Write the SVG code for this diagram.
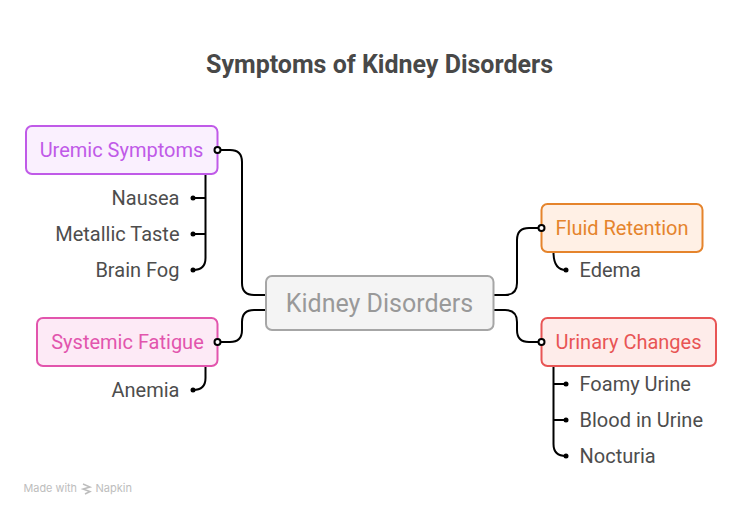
<svg xmlns="http://www.w3.org/2000/svg" width="743" height="516" viewBox="0 0 743 516">
<style>
text{font-family:Roboto,"Liberation Sans",sans-serif}
.leaf{font-size:20px;fill:#4d4d4d}
.lab{font-size:20px}
.end{text-anchor:end}
.box{stroke-width:2}
.c{fill:none;stroke:#000;stroke-width:2}
.dot{fill:#000}
.ring{fill:#fff;stroke:#000;stroke-width:2}
.wm{font-size:11px;fill:#bdbdbd;font-family:Inter,sans-serif}
</style>
<rect width="743" height="516" fill="#fff"/>
<text x="379.500" y="72.500" text-anchor="middle" font-size="25" font-weight="700" fill="#484848">Symptoms of Kidney Disorders</text>
<g id="connectors">
<path class="c" d="M266 295H254Q242 295 242 283V162Q242 150 230 150H218"/>
<path class="c" d="M266 310H254Q242 310 242 322V330Q242 342 230 342H218"/>
<path class="c" d="M493 295H505Q517 295 517 283V240Q517 228 529 228H541"/>
<path class="c" d="M493 310H505Q517 310 517 322V330Q517 342 529 342H541"/>
<path class="c" d="M205.500 174V258Q205.500 270 193 270"/>
<path class="c" d="M205.500 198H193M205.500 234H193"/>
<path class="c" d="M205.500 366V378Q205.500 390 193 390"/>
<path class="c" d="M553.500 252Q553.500 270 566 270"/>
<path class="c" d="M553.500 366V444Q553.500 456 566 456"/>
<path class="c" d="M553.500 384H566M553.500 420H566"/>
</g>
<g id="root"><rect class="box" x="266" y="276" width="227.500" height="54" rx="6" fill="#f4f4f4" stroke="#a6a6a6"/><text x="379.500" y="312" text-anchor="middle" font-size="25" fill="#999">Kidney Disorders</text></g>
<g id="uremic"><rect class="box" x="26" y="126" width="191.500" height="48" rx="6" fill="#faf0fe" stroke="#c05ae8"/><text class="lab" x="121.500" y="157" text-anchor="middle" fill="#c05ae8">Uremic Symptoms</text><circle class="ring" cx="217.500" cy="150" r="3"/></g>
<g id="fatigue"><rect class="box" x="37" y="318" width="180.500" height="48" rx="6" fill="#fdeaf6" stroke="#e255ad"/><text class="lab" x="127.500" y="349" text-anchor="middle" fill="#e255ad">Systemic Fatigue</text><circle class="ring" cx="217.500" cy="342" r="3"/></g>
<g id="fluid"><rect class="box" x="541.500" y="204" width="161" height="48" rx="6" fill="#fff0e5" stroke="#e5842c"/><text class="lab" x="622" y="235" text-anchor="middle" fill="#e5842c">Fluid Retention</text><circle class="ring" cx="541.500" cy="228" r="3"/></g>
<g id="urinary"><rect class="box" x="541.500" y="318" width="174.500" height="48" rx="6" fill="#feecea" stroke="#e85555"/><text class="lab" x="628.500" y="349" text-anchor="middle" fill="#e85555">Urinary Changes</text><circle class="ring" cx="541.500" cy="342" r="3"/></g>
<g id="nausea"><text class="leaf end" x="179.500" y="205">Nausea</text><circle class="dot" cx="193" cy="198" r="2.500"/></g>
<g id="metallic"><text class="leaf end" x="179.500" y="241">Metallic Taste</text><circle class="dot" cx="193" cy="234" r="2.500"/></g>
<g id="brainfog"><text class="leaf end" x="179.500" y="277">Brain Fog</text><circle class="dot" cx="193" cy="270" r="2.500"/></g>
<g id="anemia"><text class="leaf end" x="179.500" y="397">Anemia</text><circle class="dot" cx="193" cy="390" r="2.500"/></g>
<g id="edema"><text class="leaf" x="579.500" y="277">Edema</text><circle class="dot" cx="566" cy="270" r="2.500"/></g>
<g id="foamy"><text class="leaf" x="579.500" y="391">Foamy Urine</text><circle class="dot" cx="566" cy="384" r="2.500"/></g>
<g id="blood"><text class="leaf" x="579.500" y="427">Blood in Urine</text><circle class="dot" cx="566" cy="420" r="2.500"/></g>
<g id="nocturia"><text class="leaf" x="579.500" y="463">Nocturia</text><circle class="dot" cx="566" cy="456" r="2.500"/></g>
<g id="watermark"><text class="wm" x="23.500" y="492" textLength="53.500" lengthAdjust="spacingAndGlyphs">Made with</text><path d="M83 484L90 487L83 489L90 491.500L85 494" fill="none" stroke="#bdbdbd" stroke-width="1.500"/><text class="wm" x="95.500" y="492" textLength="36.500" lengthAdjust="spacingAndGlyphs">Napkin</text></g>
</svg>
